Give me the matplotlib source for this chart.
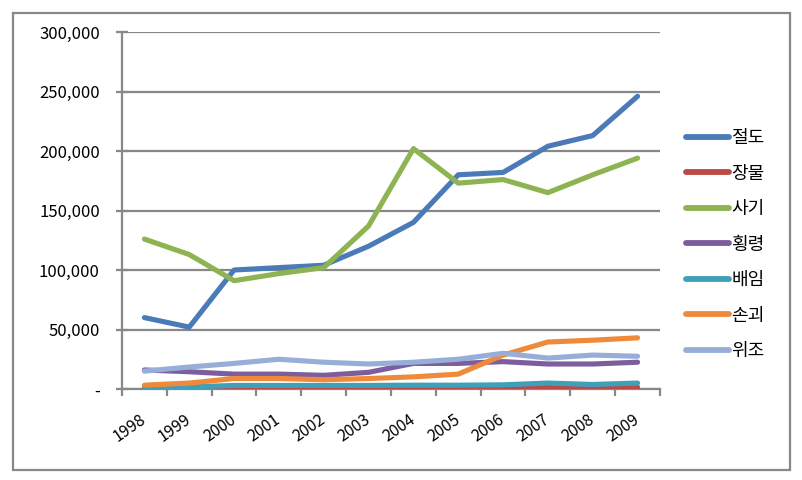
import matplotlib
matplotlib.use("Agg")
import matplotlib.pyplot as plt
from matplotlib.patches import Rectangle
from matplotlib.ticker import FuncFormatter, FixedLocator

plt.rcParams['font.family'] = ['Noto Sans CJK KR', 'DejaVu Sans']

years = ['1998', '1999', '2000', '2001', '2002', '2003', '2004', '2005', '2006', '2007', '2008', '2009']
series_names = ['절도', '장물', '사기', '횡령', '배임', '손괴', '위조']
theft =         [60000, 52000, 100000, 102000, 104000, 120000, 140000, 180000, 182000, 204000, 213000, 246000]
stolen_goods =  [600, 600, 700, 700, 700, 700, 800, 800, 900, 1200, 1200, 1500]
fraud =         [126000, 113000, 91000, 97000, 102000, 137000, 202000, 173000, 176000, 165000, 180000, 194000]
embezzlement =  [16000, 14500, 12500, 12500, 11500, 14000, 21500, 21500, 23000, 21000, 21000, 22500]
breach =        [1200, 1700, 3000, 3000, 3000, 3000, 3200, 3200, 3500, 5000, 3800, 5000]
damage =        [3200, 5000, 8800, 8800, 7800, 8800, 10200, 12500, 28500, 39500, 41000, 43000]
forgery =       [15000, 18500, 21500, 25000, 22500, 21000, 22500, 25000, 30000, 26000, 28500, 27500]
y_ticks = [0, 50000, 100000, 150000, 200000, 250000, 300000]

values = [theft, stolen_goods, fraud, embezzlement, breach, damage, forgery]
colors = ['#4A7AB7', '#BD4A47', '#8DB352', '#7C5E9E', '#3FA0BA', '#EE8A3A', '#97AED8']

fig = plt.figure(figsize=(8.02, 4.8), dpi=100)
ax = fig.add_axes([122/802, 1-389/480, (660-122)/802, (389-32)/480])

x = list(range(len(years)))
for name, vals, c in zip(series_names, values, colors):
    ax.plot(x, vals, color=c, lw=3.7, label=name, solid_capstyle='round', solid_joinstyle='round', zorder=3)

ax.set_xlim(-0.5, len(years) - 0.5)
ax.set_ylim(0, 300000)
ax.set_yticks(y_ticks)
ax.yaxis.set_major_formatter(FuncFormatter(lambda v, p: '-' if v == 0 else f'{int(v):,}'))
ax.grid(axis='y', color='#888888', lw=1.6, zorder=1)
ax.set_axisbelow(True)

ax.xaxis.set_major_locator(FixedLocator([i - 0.5 for i in range(len(years) + 1)]))
ax.xaxis.set_minor_locator(FixedLocator(x))
ax.set_xticklabels([], minor=False)
ax.set_xticklabels(years, minor=True, rotation=35, ha='right', va='center', rotation_mode='anchor')
ax.tick_params(axis='x', which='major', direction='out', length=5, width=1.6, color='#888888')
ax.tick_params(axis='x', which='minor', length=0, pad=21, labelsize=11.5)
ax.tick_params(axis='y', direction='inout', length=8, width=1.6, color='#888888', pad=12, labelsize=12)

for s in ['top', 'right']:
    ax.spines[s].set_visible(False)
for s in ['left', 'bottom']:
    ax.spines[s].set_color('#888888')
    ax.spines[s].set_linewidth(1.6)

leg = fig.legend(loc='upper left', bbox_to_anchor=(686/802, 1-129/480), frameon=False,
                 fontsize=13, handlelength=2.4, handletextpad=0.12, labelspacing=0.97,
                 borderpad=0, borderaxespad=0)
for h in leg.get_lines():
    h.set_linewidth(4.2)

fig.patches.append(Rectangle((13/802, 1-470/480), (790-13)/802, (470-13)/480,
                             transform=fig.transFigure, fill=False, edgecolor='#888888', lw=1.6))

fig.savefig('out.png', dpi=100)
